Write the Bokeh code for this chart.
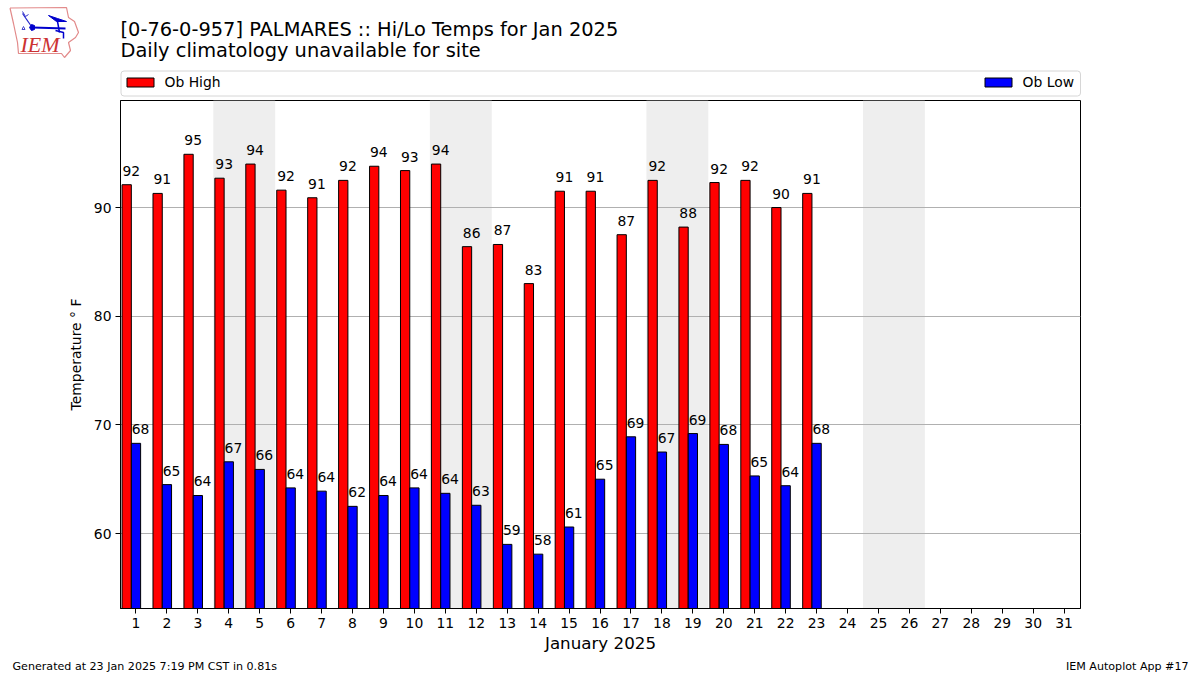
from bokeh.plotting import figure
from bokeh.embed import file_html
from bokeh.resources import INLINE
from bokeh.models import Range1d, FixedTicker, ColumnDataSource
from bokeh.core.properties import value

TITLE_1 = "[0-76-0-957] PALMARES :: Hi/Lo Temps for Jan 2025"
TITLE_2 = "Daily climatology unavailable for site"
FOOT_L = "Generated at 23 Jan 2025 7:19 PM CST in 0.81s"
FOOT_R = "IEM Autoplot App #17"
XLABEL = "January 2025"
YLABEL = "Temperature \u00b0 F"

days = list(range(1, 24))
all_days = list(range(1, 32))
weekend_starts = [4, 11, 18, 25]
highs = [92.1, 91.3, 94.9, 92.7, 94.0, 91.6, 90.9, 92.5, 93.8, 93.4, 94.0, 86.4,
         86.6, 83.0, 91.5, 91.5, 87.5, 92.5, 88.2, 92.3, 92.5, 90.0, 91.3]
lows = [68.3, 64.5, 63.5, 66.6, 65.9, 64.2, 63.9, 62.5, 63.5, 64.2, 63.7, 62.6,
        59.0, 58.1, 60.6, 65.0, 68.9, 67.5, 69.2, 68.2, 65.3, 64.4, 68.3]
high_labels = [92, 91, 95, 93, 94, 92, 91, 92, 94, 93, 94, 86, 87, 83, 91, 91, 87, 92, 88, 92, 92, 90, 91]
low_labels = [68, 65, 64, 67, 66, 64, 64, 62, 64, 64, 64, 63, 59, 58, 61, 65, 69, 67, 69, 68, 65, 64, 68]
y_ticks = [60, 70, 80, 90]
BAR_W = 0.3
Y_MIN, Y_MAX = 53.1, 99.85
FONT = "DejaVu Sans"

W = 1200
HEAD_H, MAIN_H, FOOT_H = 99, 556, 20
F_L, F_R, F_B = 120, 1080, 609

p = figure(width=W, height=MAIN_H, output_backend="svg", toolbar_location=None,
           x_range=Range1d(0.5, 31.53), y_range=Range1d(Y_MIN, Y_MAX),
           min_border_left=F_L, min_border_right=W - F_R, min_border_top=1,
           min_border_bottom=HEAD_H + MAIN_H - F_B)
p.background_fill_color = "white"
p.outline_line_color = "black"
p.outline_line_width = 1
p.xgrid.visible = False
p.ygrid.grid_line_color = "#b0b0b0"
p.ygrid.grid_line_width = 1
p.ygrid.level = "underlay"

for ax in (p.xaxis[0], p.yaxis[0]):
    ax.major_label_text_font = FONT
    ax.major_label_text_font_size = "13.9px"
    ax.major_label_text_color = "black"
    ax.major_tick_out = 5
    ax.major_tick_in = 0
    ax.minor_tick_out = 0
    ax.minor_tick_in = 0
    ax.axis_line_color = "black"
    ax.major_tick_line_color = "black"
    ax.axis_label_text_font = FONT
    ax.axis_label_text_font_style = "normal"
    ax.axis_label_text_color = "black"
    ax.major_label_standoff = 4
p.xaxis[0].ticker = FixedTicker(ticks=all_days)
p.yaxis[0].ticker = FixedTicker(ticks=y_ticks)
p.xaxis[0].axis_label = XLABEL
p.xaxis[0].axis_label_text_font_size = "16.7px"
p.xaxis[0].axis_label_standoff = 2
p.yaxis[0].axis_label = YLABEL
p.yaxis[0].axis_label_text_font_size = "13.9px"
p.yaxis[0].axis_label_standoff = 7

p.vbar(x=[d + 0.5 for d in weekend_starts], width=2, top=Y_MAX, bottom=Y_MIN,
       fill_color="#eeeeee", line_color=None, level="image")

hs = ColumnDataSource(dict(x=[d - 2 * BAR_W / 2 for d in days], top=highs))
ls = ColumnDataSource(dict(x=days, top=lows))
p.vbar(x="x", top="top", bottom=Y_MIN, width=BAR_W, source=hs, fill_color="#ff0000", line_color="black", line_width=1)
p.vbar(x="x", top="top", bottom=Y_MIN, width=BAR_W, source=ls, fill_color="#0000ff", line_color="black", line_width=1)

hl = ColumnDataSource(dict(x=[d - BAR_W / 2 for d in days], top=highs, t=[str(v) for v in high_labels]))
ll = ColumnDataSource(dict(x=[d + BAR_W / 2 for d in days], top=lows, t=[str(v) for v in low_labels]))
for s in (hl, ll):
    p.text(x="x", y="top", text="t", source=s, text_font=value(FONT), text_font_size="13.9px",
           text_align="center", text_baseline="bottom", y_offset=-9, text_color="black")


def strip(height, y0):
    f = figure(width=W, height=height, output_backend="svg", toolbar_location=None,
               x_range=Range1d(0, W), y_range=Range1d(y0 + height, y0),
               min_border=0, x_axis_type=None, y_axis_type=None)
    f.outline_line_color = None
    f.grid.visible = False
    return f


def text(f, x, y, t, size, align="left", font=FONT, color="black", style="normal"):
    f.text(x=[x], y=[y], text=[t], text_font=value(font), text_font_size=size, text_align=align,
           text_baseline="alphabetic", text_color=color, text_font_style=style)


head = strip(HEAD_H, 0)
text(head, 120, 29, TITLE_1, "19.4px")
text(head, 120, 50, TITLE_2, "19.4px")

# legend strip above the plot
head.quad(left=[120.5], right=[1080], top=[70.5], bottom=[95.5], fill_color="white", line_color="#d6d6d6",
          border_radius=3)
head.quad(left=[126.5], right=[153.5], top=[77.5], bottom=[86.5], fill_color="#ff0000", line_color="black")
head.quad(left=[984.5], right=[1011.5], top=[77.5], bottom=[86.5], fill_color="#0000ff", line_color="black")
text(head, 164, 81, "Ob High", "13.9px")
text(head, 1022, 81, "Ob Low", "13.9px")

# IEM logo
iowa = [(9.5, 7.5), (66, 7), (68, 17), (74, 21), (78, 32), (75, 37), (68, 42), (70, 50), (64, 57),
        (61, 53), (18, 53), (17, 42), (13, 23), (9.5, 7.5)]


def line(pts, color="#0000cc", width=1.5):
    head.line([a for a, _ in pts], [b for _, b in pts], line_color=color, line_width=width)


def fill(pts, color="#0000cc"):
    head.patch([a for a, _ in pts], [b for _, b in pts], fill_color=color, line_color=color, line_width=1)


line(iowa, "#e28a8a", 1.2)
line([(32, 27), (65, 28)], "#0000cc", 1.8)
line([(22, 13), (31, 26)], "#2222cc", 1.2)
line([(22, 11), (25, 16), (28, 14)], "#3333cc", 1)
fill([(48, 15), (57, 18), (66, 21), (56, 21)])
line([(57, 21), (59, 32)])
line([(55, 30), (63, 32), (63, 38)])
fill([(29, 27), (31, 24), (34, 25), (34, 29), (31, 30)])
line([(23, 26), (24.5, 29), (21.5, 29), (23, 26)], "#4444cc", 1)
text(head, 20, 44, "IEM", "22px", font="Liberation Serif", color="#cc3333", style="italic")

foot = strip(FOOT_H, HEAD_H + MAIN_H)
text(foot, 12, 666, FOOT_L, "11.1px")
text(foot, 1188, 666, FOOT_R, "11.1px", "right")

open("out.html", "w").write(file_html([head, p, foot], INLINE))
